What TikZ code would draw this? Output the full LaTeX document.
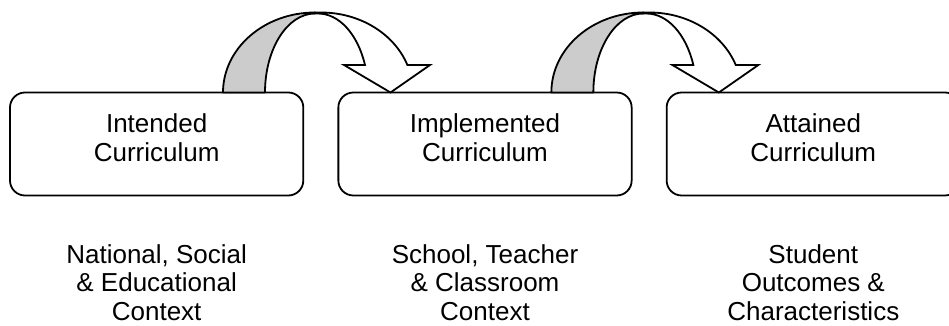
\documentclass[tikz,border=0pt]{standalone}
\usepackage{fontspec}
\setmainfont{Liberation Sans}
\begin{document}
\begin{tikzpicture}[x=1pt,y=1pt,
  box/.style={draw, line width=1.8pt, rounded corners=15pt, minimum width=293.3pt,
    minimum height=103pt, inner sep=0pt, outer sep=0pt},
  lbl/.style={font=\fontsize{26}{29}\selectfont, align=center, inner sep=0pt},
  ctx/.style={font=\fontsize{26}{28.6}\selectfont, align=center, inner sep=0pt},
  backband/.style={draw, line width=1.8pt, fill=black!20, line join=round},
  frontband/.style={draw, line width=1.8pt, fill=white, line join=miter},
  curvedarrow/.pic={
    \draw[backband] (-92,0) arc[start angle=180,end angle=90,x radius=92pt,y radius=80pt]
      -- (0,79) arc[start angle=90,end angle=180,x radius=50pt,y radius=79pt] -- cycle;
    \draw[frontband] (0,80) -- (6,80)
      arc[start angle=90,end angle=20.1,x radius=92pt,y radius=80pt]
      -- (115,27.5) -- (75.5,0) -- (29,27.5) -- (50,27.5)
      arc[start angle=20.4,end angle=90,x radius=50pt,y radius=79pt]
      -- (0,79) -- cycle;
  }]
\useasboundingbox (0,0) rectangle (949,326);
\node[box] (b1) at (156.65,182) {};
\node[box] (b2) at (485,182) {};
\node[box] (b3) at (813.3,182) {};
\node[lbl] (t1) at ([yshift=6pt]b1.center) {Intended\\Curriculum};
\node[lbl] (t2) at ([yshift=6pt]b2.center) {Implemented\\Curriculum};
\node[lbl] (t3) at ([yshift=6pt]b3.center) {Attained\\Curriculum};
\pic at ([xshift=11.7pt]b1.north east) {curvedarrow};
\pic at ([xshift=11.7pt]b2.north east) {curvedarrow};
\node[ctx] (c1) at ([yshift=-138.5pt]b1.center) {National, Social\\\& Educational\\Context};
\node[ctx] (c2) at ([yshift=-138.5pt]b2.center) {School, Teacher\\\& Classroom\\Context};
\node[ctx] (c3) at ([yshift=-138.5pt]b3.center) {Student\\Outcomes \&\\Characteristics};
\end{tikzpicture}
\end{document}
